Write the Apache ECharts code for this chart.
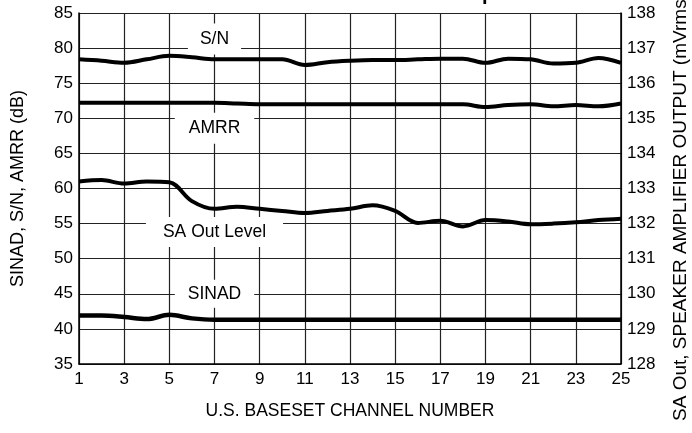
<!DOCTYPE html>
<html><head><meta charset="utf-8">
<script src="https://cdn.jsdelivr.net/npm/echarts@6/dist/echarts.min.js"></script>
<style>html,body{margin:0;padding:0;background:#fff}#c{width:692px;height:433px}</style>
</head><body><div id="c"></div>
<script>
const channels = ['1','2','3','4','5','6','7','8','9','10','11','12','13','14','15','16','17','18','19','20','21','22','23','24','25'];
const snValues = [78.4,78.2,77.9,78.4,78.9,78.7,78.4,78.4,78.4,78.4,77.6,78.0,78.2,78.3,78.3,78.4,78.5,78.5,77.9,78.5,78.4,77.8,77.9,78.6,77.9];
const amrrValues = [72.2,72.2,72.2,72.2,72.2,72.2,72.2,72.1,72.0,72.0,72.0,72.0,72.0,72.0,72.0,72.0,72.0,72.0,71.6,71.9,72.0,71.7,71.9,71.7,72.1];
const saOutValues = [133.20,133.24,133.14,133.20,133.18,132.64,132.42,132.48,132.42,132.36,132.30,132.36,132.42,132.52,132.36,132.02,132.08,131.92,132.10,132.06,131.98,132.00,132.04,132.10,132.14];
const sinadValues = [41.9,41.9,41.7,41.4,42.0,41.5,41.3,41.3,41.3,41.3,41.3,41.3,41.3,41.3,41.3,41.3,41.3,41.3,41.3,41.3,41.3,41.3,41.3,41.3,41.3];
const leftAxisName = 'SINAD, S/N, AMRR (dB)';
const rightAxisName = 'SA Out, SPEAKER AMPLIFIER OUTPUT (mVrms)';
const xAxisName = 'U.S. BASESET CHANNEL NUMBER';
// curve labels: [text, channel, value, axisIndex, padding]
const curveLabels = [
  ['S/N', '7', 81.3, 0, [5,12,8,12]],
  ['AMRR', '7', 68.6, 0, [9,14,4,14]],
  ['SA Out Level', '7', 53.8, 0, [8,17,4,17]],
  ['SINAD', '7', 45.0, 0, [5,13,5,13]]
];

const FONT = '"Liberation Sans", Arial, sans-serif';
const chart = echarts.init(document.getElementById('c'), null, {renderer: 'canvas'});
function mk(name, data, yIdx, w) {
  return {name, type: 'line', data, yAxisIndex: yIdx, smooth: 0.35, showSymbol: false, symbol: 'none',
    lineStyle: {color: '#000', width: w}, z: 5};
}
chart.setOption({
  animation: false,
  grid: {left: 79, right: 71, top: 13, bottom: 69, containLabel: false, outerBoundsMode: 'none'},
  xAxis: {
    type: 'category', data: channels, boundaryGap: false,
    name: xAxisName, nameLocation: 'middle', nameGap: 38,
    nameTextStyle: {fontFamily: FONT, fontSize: 17.5, color: '#000'},
    axisLine: {show: true, lineStyle: {color: '#000', width: 1.5}},
    axisTick: {show: false},
    axisLabel: {interval: 1, margin: 7, fontFamily: FONT, fontSize: 17, color: '#000'},
    splitLine: {show: true, interval: 1, lineStyle: {color: '#222', width: 1.2}}
  },
  yAxis: [{
    type: 'value', min: 35, max: 85, interval: 5, position: 'left',
    name: leftAxisName, nameLocation: 'middle', nameGap: 52, nameRotate: 90,
    nameTextStyle: {fontFamily: FONT, fontSize: 18, color: '#000'},
    axisLine: {show: true, lineStyle: {color: '#000', width: 1.5}},
    axisTick: {show: false},
    axisLabel: {margin: 6, fontFamily: FONT, fontSize: 17, color: '#000'},
    splitLine: {show: true, lineStyle: {color: '#222', width: 1.2}}
  }, {
    type: 'value', min: 128, max: 138, interval: 1, position: 'right',
    axisLine: {show: true, lineStyle: {color: '#000', width: 1.5}},
    axisTick: {show: false},
    axisLabel: {margin: 6, fontFamily: FONT, fontSize: 17, color: '#000'},
    splitLine: {show: false}
  }],
  series: [
    mk('S/N', snValues, 0, 4),
    mk('AMRR', amrrValues, 0, 4),
    mk('SA Out Level', saOutValues, 1, 4),
    mk('SINAD', sinadValues, 0, 4.5)
  ]
});
const elements = curveLabels.map(([text, ch, val, yi, pad]) => {
  const p = chart.convertToPixel({xAxisIndex: 0, yAxisIndex: yi}, [ch, val]);
  return {type: 'text', x: p[0], y: p[1], z: 20,
    style: {text, font: '17.5px ' + FONT, fill: '#000', align: 'center', verticalAlign: 'middle',
      backgroundColor: '#fff', padding: pad}};
});
// right axis title (rotated, partly clipped at top as in the reference)
elements.push({type: 'text', x: 681, y: 207, rotation: Math.PI / 2, z: 20,
  style: {text: rightAxisName, font: '19px ' + FONT, fill: '#000', align: 'center', verticalAlign: 'middle'}});
// clipped bold title descender at top edge
elements.push({type: 'text', left: 482, top: -16, z: 20,
  style: {text: 'p', font: 'bold 20px ' + FONT, fill: '#000'}});
chart.setOption({graphic: {elements}});
</script>
</body></html>
